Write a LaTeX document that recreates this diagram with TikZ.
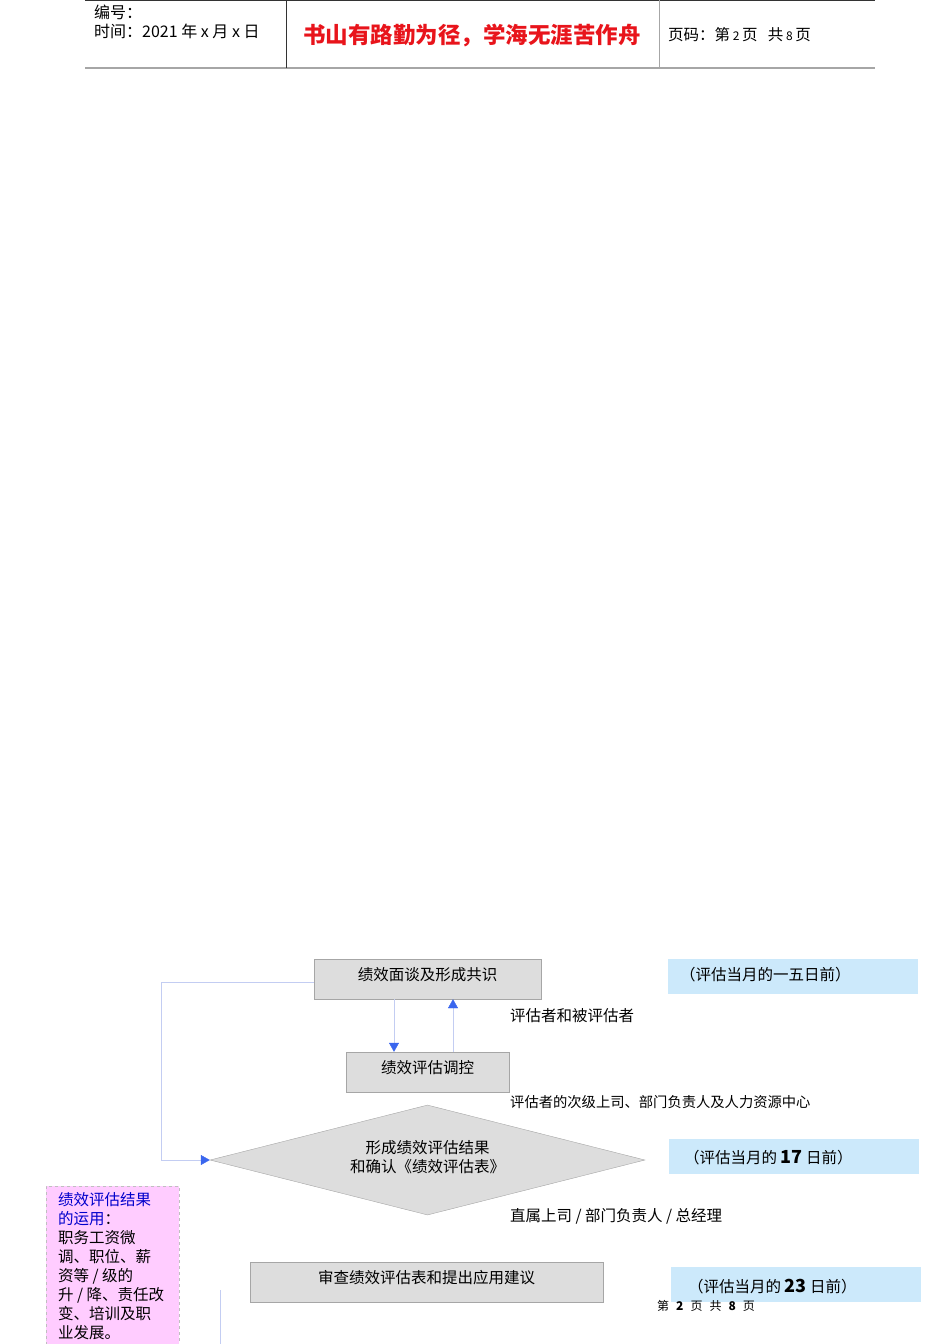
\documentclass[tikz,border=0pt]{standalone}
\usepackage{fontspec}
\setmainfont{Noto Sans CJK SC}
\usepackage{xcolor}
\usetikzlibrary{positioning, shapes.geometric, arrows.meta}
\definecolor{boxGray}{HTML}{DDDDDD}
\definecolor{edgeGray}{HTML}{A6A6A6}
\definecolor{dateBlue}{HTML}{CCE9FB}
\definecolor{notePink}{HTML}{FFCCFF}
\definecolor{lineBlue}{HTML}{C3CDF2}
\definecolor{tipBlue}{HTML}{3A66EE}
\definecolor{titleRed}{HTML}{E8141B}

\begin{document}
\begin{tikzpicture}[x=1pt, y=-1pt,
    font=\fontsize{15.5}{19}\selectfont,
    step box/.style={draw=edgeGray, fill=boxGray, inner sep=0pt},
    date box/.style={fill=dateBlue, inner sep=0pt, minimum width=250pt, minimum height=35pt},
    who/.style={anchor=west, inner sep=0pt},
    flow/.style={lineBlue, -{Triangle[length=9pt, width=10pt, fill=tipBlue, color=tipBlue]}}]
    \useasboundingbox (0,0) rectangle (950,1344);
    % header
    \draw[black!80] (85,0) -- (875,0);
    \draw[edgeGray, line width=1.5pt] (85,68) -- (875,68);
    \draw[black!80] (286,0) -- (286,68);
    \draw[edgeGray] (659,0) -- (659,68);
    \node[who, font=\fontsize{16}{17}\selectfont] (num) at (94,12) {编号：};
    \node[who, font=\fontsize{16}{17}\selectfont] (date) at (94,31) {时间：2021\ 年\ x\ 月\ x\ 日};
    \node[titleRed, font=\fontsize{22.5}{24}\selectfont\bfseries] (motto) at (472,36) {书山有路勤为径，学海无涯苦作舟};
    \node[who, font=\fontsize{15.5}{17}\selectfont] (page) at (668,35)
        {页码：第\,{\fontsize{12}{13}\selectfont 2}\,页\ \ \ 共\,{\fontsize{12}{13}\selectfont 8}\,页};
    % flow steps
    \node[step box, minimum width=227pt, minimum height=40pt] (talk) at (427.5,979) {};
    \node at (427.5,975) {绩效面谈及形成共识};
    \node[step box, minimum width=163pt, minimum height=40pt] (ctrl) at (427.5,1072) {};
    \node at (427.5,1068) {绩效评估调控};
    \node[diamond, aspect=4, draw=edgeGray, fill=boxGray, inner sep=0pt,
        minimum width=435pt, minimum height=110pt] (result) at (427.5,1160) {};
    \node[align=center] (resulttxt) at (427.5,1157) {形成绩效评估结果\\和确认《绩效评估表》};
    \node[step box, minimum width=353pt, minimum height=40pt] (review) at (426.5,1282) {};
    \node at (426.5,1278) {审查绩效评估表和提出应用建议};
    % dates
    \node[date box] (d1) at (793,976.5) {};
    \node[who] (d1txt) at (680,975) {（评估当月的一五日前）};
    \node[date box] (d2) at (793.5,1156.5) {};
    \node[who] (d2txt) at (684,1158) {（评估当月的 \textbf{\fontsize{18}{19}\selectfont 17} 日前）};
    \node[date box] (d3) at (796,1284.5) {};
    \node[who] (d3txt) at (688,1287) {（评估当月的 \textbf{\fontsize{18}{19}\selectfont 23} 日前）};
    % who does it
    \node[who] (w1) at (510,1016) {评估者和被评估者};
    \node[who, font=\fontsize{14.3}{17}\selectfont] (w2) at (510,1102) {评估者的次级上司、部门负责人及人力资源中心};
    \node[who] (w3) at (510,1216) {直属上司 / 部门负责人 / 总经理};
    % arrows
    \draw[flow] ([xshift=-33.5pt]talk.south) -- ([xshift=-33.5pt]ctrl.north);
    \draw[flow] ([xshift=25.5pt]ctrl.north) -- ([xshift=25.5pt]talk.south);
    \draw[flow] ([yshift=-3pt]talk.west) -- (161,982) |- (result.west);
    \draw[lineBlue] (220,1290) -- (220,1344);
    % use of results
    \node[fill=notePink, draw=black!25, dashed, inner sep=0pt, anchor=north west,
        minimum width=133pt, minimum height=160pt] (use) at (46,1186) {};
    \node[anchor=north west, align=left, inner sep=0pt] (usetxt) at (58,1192)
        {\textcolor{blue!80!black}{绩效评估结果}\\\textcolor{blue!80!black}{的运用}：\\职务工资微\\调、职位、薪\\资等 / 级的\\升 / 降、责任改\\变、培训及职\\业发展。};
    % footer
    \node[who, font=\fontsize{12}{13}\selectfont] (foot) at (657,1306)
        {第\hspace{7pt}\textbf{2}\hspace{7pt}页\hspace{7pt}共\hspace{7pt}\textbf{8}\hspace{7pt}页};
\end{tikzpicture}
\end{document}
